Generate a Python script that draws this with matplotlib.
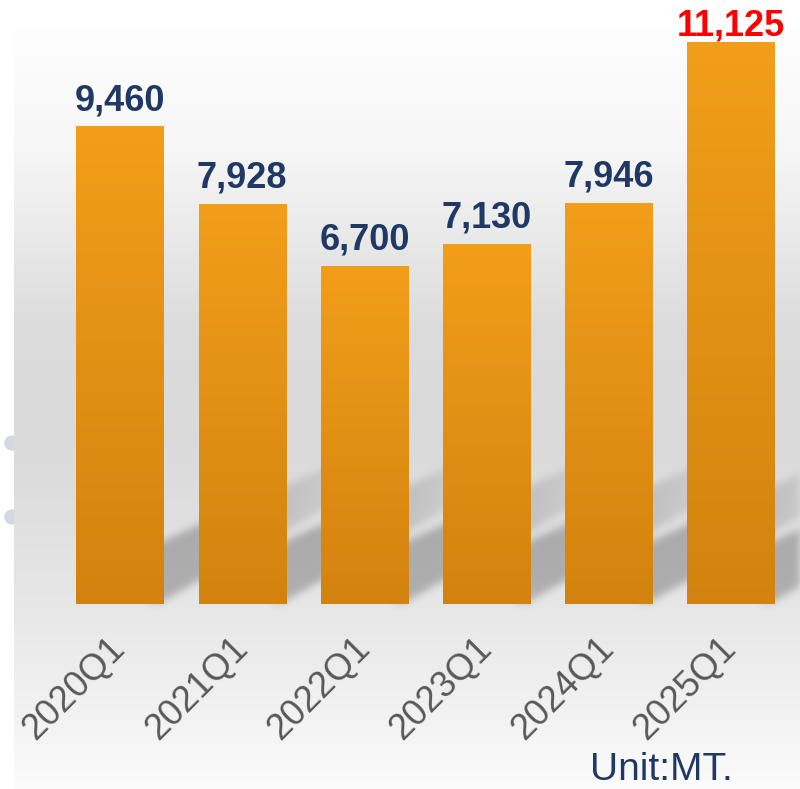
import numpy as np
import matplotlib
matplotlib.use("Agg")
import matplotlib.pyplot as plt
from matplotlib.patches import Circle

# data
quarters = ["2020Q1", "2021Q1", "2022Q1", "2023Q1", "2024Q1", "2025Q1"]
volumes = [9460, 7928, 6700, 7130, 7946, 11125]
label_colors = ["#1f3864", "#1f3864", "#1f3864", "#1f3864", "#1f3864", "#ff0000"]
label_offsets = [11.5, 11.5, 11.5, 11.5, 11.5, 4.5]

W, H = 800, 789
fig = plt.figure(figsize=(W / 100, H / 100), dpi=100)
fig.patch.set_facecolor("white")

# main axes: bars
ax = fig.add_axes([0, (H - 604) / H, 1, 604 / H])
ax.set_xlim(-120 / 122.2, (W - 120) / 122.2)
ax.set_ylim(0, 11960)
ax.patch.set_visible(False)
ax.set_zorder(2)
for s in ax.spines.values():
    s.set_visible(False)
ax.set_yticks([])

x = np.arange(len(quarters))
bar_w = 0.712
bars = ax.bar(x, volumes, width=bar_w, color="none", edgecolor="none")

# orange vertical gradient on each bar
top_c = np.array([0.949, 0.620, 0.102])
bot_c = np.array([0.824, 0.514, 0.059])
t = np.linspace(0, 1, 256)[:, None]
grad = (top_c * (1 - t) + bot_c * t)[:, None, :]
for b in bars:
    x0, y0 = b.get_x(), b.get_y()
    im = ax.imshow(grad, extent=[x0, x0 + b.get_width(), y0, y0 + b.get_height()],
                   aspect="auto", origin="upper", zorder=3)
    im.set_clip_path(b)
ax.set_xlim(-120 / 122.2, (W - 120) / 122.2)
ax.set_ylim(0, 11960)

for i, v in enumerate(volumes):
    ax.annotate(f"{v:,}", (i, v), xytext=(0, label_offsets[i]), textcoords="offset points",
                ha="center", va="baseline", fontsize=26, fontweight="bold",
                color=label_colors[i], family="Liberation Sans", zorder=5)

ax.set_xticks(x)
ax.set_xticklabels(quarters, rotation=45, ha="right", va="center", rotation_mode="anchor",
                   fontsize=26, color="#595959", family="Liberation Sans")
ax.tick_params(axis="x", length=0, pad=28)

# background panel with vertical grey gradient + diagonal shadows
bg = fig.add_axes([0, 0, 1, 1])
bg.set_xlim(0, W)
bg.set_ylim(H, 0)
bg.axis("off")
bg.set_zorder(0)

for cy in (443, 517):
    bg.add_patch(Circle((12, cy), 7, color="#d3d8e2", zorder=0))

px0, py0 = 14, 28
rows = np.arange(py0, H)
stops_y = [28, 150, 330, 450, 604, 700, 789]
stops_v = [0.995, 0.965, 0.86, 0.855, 0.905, 0.945, 0.985]
level = np.interp(rows, stops_y, stops_v)
panel = np.repeat(level[:, None], W - px0, axis=1)

# shadows from each bar's bottom-right corner
fig.canvas.draw()
shadow = np.zeros_like(panel)
cols = np.arange(px0, W)
for b in bars:
    xr_disp, base_disp = ax.transData.transform((b.get_x() + b.get_width(), 0))
    xr = xr_disp
    base = H - base_disp
    dx = cols - xr
    low = base - 4 - 0.57 * dx
    up = low - 60 + 0.12 * np.clip(dx, 0, None)
    fade = np.clip(1.15 - dx / 200, 0, 1) * (dx > -15)
    yy = rows[:, None]
    mask = (yy <= low[None, :]) & (yy >= up[None, :]) & (yy < base - 2)
    shadow = np.maximum(shadow, mask * fade[None, :])


def blur(a, sigma):
    k = np.exp(-0.5 * (np.arange(-3 * sigma, 3 * sigma + 1) / sigma) ** 2)
    k /= k.sum()
    a = np.apply_along_axis(lambda r: np.convolve(r, k, mode="same"), 1, a)
    a = np.apply_along_axis(lambda c: np.convolve(c, k, mode="same"), 0, a)
    return a


shadow = blur(shadow, 4)
panel = panel * (1 - 0.24 * shadow)
bg.imshow(np.dstack([panel] * 3), extent=[px0, W, H, py0], aspect="auto",
          origin="upper", zorder=1, interpolation="bilinear")

fig.text(590 / W, 1 - 780 / H, "Unit:MT.", fontsize=28, color="#1f3864",
         family="Liberation Sans", ha="left", va="baseline", zorder=5)

fig.savefig("out.png", dpi=100)
